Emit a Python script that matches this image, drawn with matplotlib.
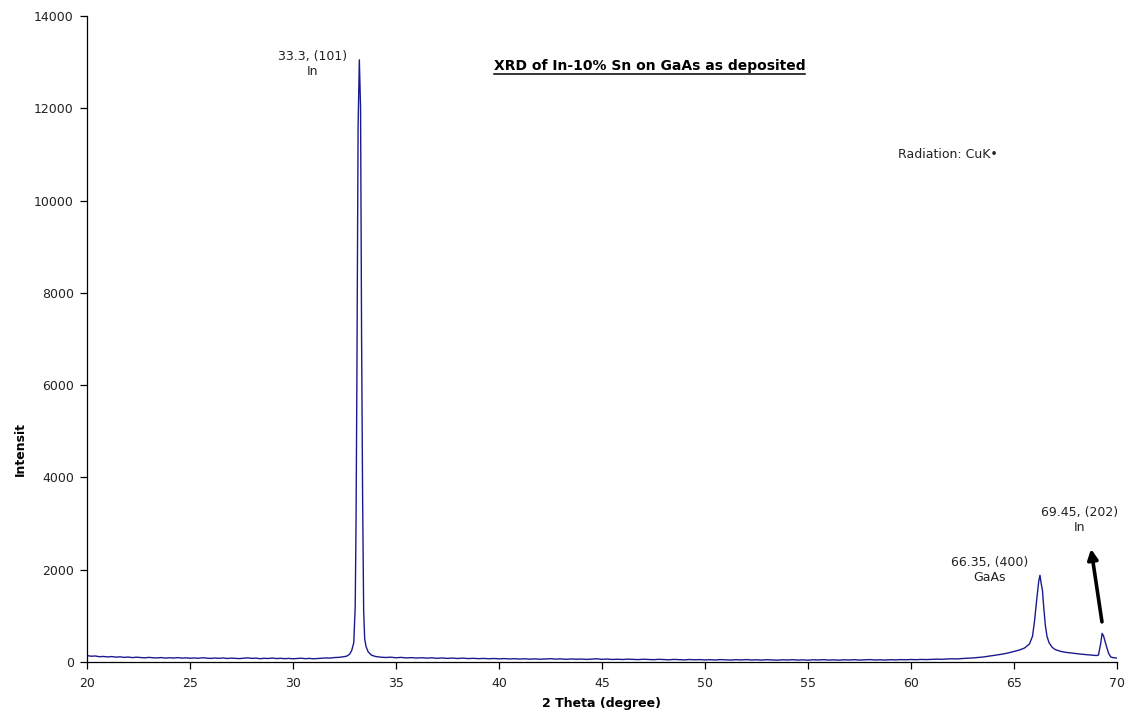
import numpy as np
import matplotlib
matplotlib.use("Agg")
import matplotlib.pyplot as plt
from matplotlib.lines import Line2D

plt.rcParams['font.family'] = ['DejaVu Sans']

# 2-theta positions (degree) and measured intensity
two_theta_low = [20.0, 20.2, 20.4, 20.6, 20.8, 21.0, 21.2, 21.4, 21.6, 21.8,
                 22.0, 22.2, 22.4, 22.6, 22.8, 23.0, 23.2, 23.4, 23.6, 23.8,
                 24.0, 24.2, 24.4, 24.6, 24.8, 25.0, 25.2, 25.4, 25.6, 25.8,
                 26.0, 26.2, 26.4, 26.6, 26.8, 27.0, 27.2, 27.4, 27.6, 27.8,
                 28.0, 28.2, 28.4, 28.6, 28.8, 29.0, 29.2, 29.4, 29.6, 29.8,
                 30.0, 30.2, 30.4, 30.6, 30.8, 31.0, 31.2, 31.4, 31.6, 31.8,
                 32.0, 32.2, 32.4, 32.6]
intensity_low = [140, 125, 130, 115, 120, 110, 118, 105, 112, 100,
                 108, 95, 104, 98, 90, 100, 92, 88, 96, 85,
                 92, 86, 95, 84, 90, 82, 88, 80, 92, 84,
                 78, 86, 80, 88, 76, 84, 80, 74, 82, 90,
                 78, 84, 72, 80, 76, 86, 74, 80, 72, 78,
                 70, 76, 82, 72, 78, 70, 76, 80, 88, 84,
                 96, 100, 110, 125]

two_theta_in101 = [32.75, 32.85, 32.95, 33.02, 33.06, 33.1, 33.16, 33.22,
                   33.28, 33.33, 33.38, 33.43, 33.48, 33.55, 33.65, 33.8, 34.0]
intensity_in101 = [170, 250, 420, 1200, 3000, 6000, 11600, 13050,
                   12000, 7000, 3500, 1100, 500, 330, 220, 150, 120]

two_theta_mid = [34.25, 34.5, 34.75, 35.0, 35.25, 35.5, 35.75, 36.0, 36.25, 36.5,
                 36.75, 37.0, 37.25, 37.5, 37.75, 38.0, 38.25, 38.5, 38.75, 39.0,
                 39.25, 39.5, 39.75, 40.0, 40.25, 40.5, 40.75, 41.0, 41.25, 41.5,
                 41.75, 42.0, 42.25, 42.5, 42.75, 43.0, 43.25, 43.5, 43.75, 44.0,
                 44.25, 44.5, 44.75, 45.0, 45.25, 45.5, 45.75, 46.0, 46.25, 46.5,
                 46.75, 47.0, 47.25, 47.5, 47.75, 48.0, 48.25, 48.5, 48.75, 49.0,
                 49.25, 49.5, 49.75, 50.0, 50.25, 50.5, 50.75, 51.0, 51.25, 51.5,
                 51.75, 52.0, 52.25, 52.5, 52.75, 53.0, 53.25, 53.5, 53.75, 54.0,
                 54.25, 54.5, 54.75, 55.0, 55.25, 55.5, 55.75, 56.0, 56.25, 56.5,
                 56.75, 57.0, 57.25, 57.5, 57.75, 58.0, 58.25, 58.5, 58.75, 59.0,
                 59.25, 59.5, 59.75, 60.0]
intensity_mid = [105, 98, 104, 92, 100, 88, 95, 86, 92, 84,
                 90, 80, 88, 78, 85, 76, 84, 74, 80, 72,
                 78, 70, 76, 68, 74, 66, 72, 64, 70, 62,
                 68, 60, 66, 72, 62, 68, 58, 66, 60, 64,
                 56, 62, 70, 58, 64, 55, 60, 54, 62, 56,
                 52, 60, 54, 50, 58, 52, 48, 56, 50, 46,
                 54, 48, 52, 45, 50, 44, 52, 46, 42, 50,
                 45, 52, 44, 48, 42, 50, 46, 40, 48, 44,
                 50, 42, 46, 40, 48, 44, 50, 42, 46, 40,
                 48, 44, 50, 42, 46, 52, 44, 48, 42, 50,
                 46, 52, 48, 54]

two_theta_high = [60.25, 60.5, 60.75, 61.0, 61.25, 61.5, 61.75, 62.0, 62.25, 62.5,
                  62.75, 63.0, 63.25, 63.5, 63.75, 64.0, 64.25, 64.5, 64.75, 65.0,
                  65.25, 65.5, 65.75, 65.9, 66.0, 66.1, 66.2, 66.26, 66.32, 66.38,
                  66.45, 66.52, 66.6, 66.7, 66.85, 67.0, 67.25, 67.5, 67.75, 68.0,
                  68.25, 68.5, 68.75, 69.0, 69.1, 69.2, 69.28, 69.35, 69.42, 69.5,
                  69.6, 69.7, 69.8, 69.9, 70.0]
intensity_high = [50, 56, 52, 58, 62, 58, 66, 70, 66, 76,
                  82, 88, 98, 108, 124, 140, 158, 176, 200, 228,
                  258, 300, 390, 560, 900, 1340, 1750, 1880, 1700, 1560,
                  1150, 800, 560, 420, 320, 270, 232, 210, 196, 182,
                  170, 160, 150, 140, 150, 380, 620, 560, 450, 320,
                  180, 110, 95, 90, 85]

two_theta = two_theta_low + two_theta_in101 + two_theta_mid + two_theta_high
intensity = intensity_low + intensity_in101 + intensity_mid + intensity_high

W, H = 1127, 714
fig = plt.figure(figsize=(W / 100, H / 100), dpi=100)
ax = fig.add_axes([87 / W, 1 - 662 / H, (1117 - 87) / W, (662 - 16) / H])

ax.plot(two_theta, intensity, color='#1a1a8f', lw=1.0)

ax.set_xlim(20, 70)
ax.set_ylim(0, 14000)
ax.set_xticks(np.arange(20, 71, 5))
ax.set_yticks(np.arange(0, 14001, 2000))
ax.spines['top'].set_visible(False)
ax.spines['right'].set_visible(False)
for s in ('left', 'bottom'):
    ax.spines[s].set_linewidth(0.9)
ax.tick_params(direction='out', length=5, width=0.9, labelsize=9,
               labelcolor='#222222')
ax.tick_params(axis='x', pad=5.5)
ax.tick_params(axis='y', pad=4.5)

ax.set_xlabel('2 Theta (degree)', fontsize=9, fontweight='bold', labelpad=5)
ax.set_ylabel('Intensit', fontsize=9, fontweight='bold')
ax.yaxis.set_label_coords(-0.058, 0.33)

txt = dict(fontsize=9, color='#222222', ha='center', va='bottom', linespacing=1.2)
ax.text(30.97, 12650, '33.3, (101)\nIn', **txt)
ax.text(63.83, 1690, '66.35, (400)\nGaAs', **txt)
ax.text(68.2, 2775, '69.45, (202)\nIn', **txt)
ax.text(59.37, 10990, 'Radiation: CuK\u2022', fontsize=9, color='#222222',
        ha='left', va='center')

title = ax.text(47.3, 12760, 'XRD of In-10% Sn on GaAs as deposited',
                fontsize=10, fontweight='bold', ha='center', va='bottom')

ax.annotate('', xy=(68.74, 2450), xytext=(69.27, 870),
            arrowprops=dict(arrowstyle='-|>', color='black', lw=2.6,
                            mutation_scale=15, shrinkA=0, shrinkB=0))

# underline the title
fig.canvas.draw()
bb = title.get_window_extent(renderer=fig.canvas.get_renderer())
fx0, fx1 = bb.x0 / W, bb.x1 / W
fy = (bb.y0 - 1.0) / H
fig.add_artist(Line2D([fx0, fx1], [fy, fy], color='black', lw=1.1,
                      transform=fig.transFigure))

fig.savefig('out.png', dpi=100)
